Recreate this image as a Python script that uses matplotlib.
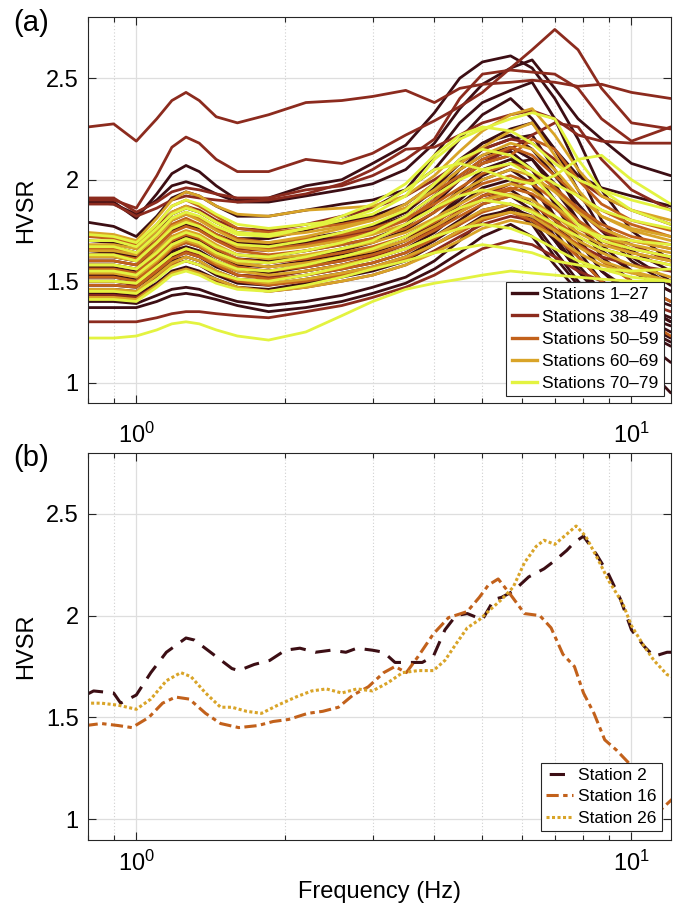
import numpy as np
import matplotlib
matplotlib.use('Agg')
import matplotlib.pyplot as plt
from matplotlib.ticker import FixedLocator, FuncFormatter, NullFormatter
from matplotlib.lines import Line2D

plt.rcParams['font.family'] = ['Liberation Sans', 'DejaVu Sans']
plt.rcParams['mathtext.fontset'] = 'custom'
plt.rcParams['mathtext.rm'] = 'Liberation Sans'

# ---------------- Panel (a) data ----------------
freq_a = [0.8, 0.9, 1.0, 1.1, 1.18, 1.26, 1.34, 1.45, 1.6, 1.85, 2.2, 2.6, 3.0, 3.5,
          4.0, 4.5, 5.0, 5.7, 6.3, 7.0, 7.8, 8.7, 10.0, 12.0]

dark_curves = [
    [1.90,1.89,1.81,1.93,2.03,2.07,2.04,1.97,1.90,1.91,1.97,2.00,2.08,2.17,2.33,2.50,2.58,2.61,2.55,2.40,2.20,1.95,1.75,1.60],
    [1.89,1.88,1.83,1.90,1.97,1.99,1.97,1.93,1.89,1.89,1.92,1.95,1.98,2.05,2.18,2.35,2.47,2.55,2.59,2.45,2.30,2.20,2.08,2.02],
    [1.79,1.77,1.72,1.82,1.91,1.94,1.92,1.87,1.82,1.82,1.85,1.88,1.90,1.95,2.05,2.20,2.32,2.40,2.30,2.15,2.02,1.96,1.92,1.87],
    [1.70,1.69,1.66,1.75,1.83,1.86,1.84,1.79,1.74,1.73,1.76,1.79,1.82,1.88,1.98,2.10,2.18,2.22,2.15,2.02,1.88,1.75,1.65,1.55],
    [1.65,1.64,1.62,1.70,1.77,1.80,1.78,1.73,1.69,1.68,1.71,1.74,1.77,1.84,1.95,2.05,2.12,2.16,2.10,1.95,1.80,1.65,1.55,1.45],
    [1.62,1.62,1.60,1.68,1.75,1.78,1.76,1.71,1.66,1.66,1.69,1.72,1.76,1.82,1.92,2.02,2.10,2.14,2.05,1.90,1.72,1.55,1.42,1.30],
    [1.60,1.60,1.58,1.65,1.72,1.74,1.72,1.67,1.63,1.62,1.65,1.68,1.71,1.77,1.88,2.00,2.08,2.12,2.00,1.82,1.65,1.50,1.40,1.30],
    [1.58,1.58,1.56,1.63,1.70,1.72,1.70,1.65,1.61,1.60,1.62,1.65,1.69,1.75,1.84,1.95,2.05,2.10,2.05,1.88,1.70,1.55,1.45,1.38],
    [1.55,1.55,1.53,1.60,1.67,1.69,1.67,1.62,1.58,1.57,1.60,1.63,1.66,1.72,1.80,1.90,2.00,2.05,1.98,1.80,1.62,1.50,1.40,1.32],
    [1.53,1.53,1.51,1.58,1.65,1.67,1.65,1.60,1.56,1.55,1.58,1.61,1.64,1.70,1.78,1.88,1.96,2.00,1.92,1.75,1.58,1.45,1.35,1.25],
    [1.50,1.50,1.49,1.56,1.62,1.64,1.62,1.57,1.53,1.52,1.55,1.58,1.61,1.66,1.74,1.84,1.92,1.95,1.88,1.72,1.56,1.42,1.30,1.20],
    [1.48,1.48,1.47,1.54,1.60,1.62,1.60,1.55,1.51,1.50,1.53,1.56,1.59,1.64,1.72,1.80,1.88,1.92,1.85,1.70,1.55,1.42,1.32,1.22],
    [1.46,1.46,1.45,1.52,1.58,1.60,1.58,1.53,1.49,1.48,1.51,1.54,1.57,1.62,1.70,1.78,1.85,1.88,1.80,1.65,1.50,1.38,1.28,1.18],
    [1.44,1.44,1.43,1.49,1.55,1.57,1.55,1.51,1.47,1.46,1.49,1.52,1.55,1.60,1.68,1.75,1.82,1.85,1.78,1.62,1.48,1.36,1.25,1.10],
    [1.37,1.37,1.37,1.40,1.43,1.44,1.43,1.41,1.38,1.35,1.37,1.40,1.44,1.49,1.56,1.64,1.72,1.78,1.72,1.58,1.45,1.30,1.15,0.95],
    [1.40,1.40,1.39,1.43,1.46,1.47,1.46,1.43,1.40,1.38,1.40,1.43,1.47,1.52,1.60,1.70,1.80,1.86,1.82,1.70,1.55,1.45,1.35,1.28],
    [1.67,1.67,1.64,1.73,1.80,1.83,1.81,1.76,1.71,1.71,1.75,1.80,1.86,1.95,2.12,2.28,2.38,2.44,2.48,2.30,2.05,1.80,1.62,1.50],
    [1.57,1.57,1.55,1.62,1.69,1.71,1.69,1.64,1.60,1.59,1.62,1.66,1.70,1.78,1.90,2.05,2.15,2.20,2.22,2.05,1.85,1.68,1.55,1.45],
    [1.52,1.52,1.50,1.57,1.64,1.66,1.64,1.59,1.55,1.54,1.57,1.60,1.64,1.70,1.80,1.92,2.02,2.08,2.10,1.98,1.80,1.62,1.50,1.40],
    [1.63,1.63,1.61,1.69,1.76,1.79,1.77,1.72,1.67,1.67,1.70,1.73,1.77,1.84,1.96,2.08,2.18,2.25,2.28,2.15,1.95,1.75,1.60,1.48],
]

red_curves = [
    [2.26,2.275,2.19,2.30,2.39,2.43,2.39,2.31,2.28,2.32,2.38,2.39,2.41,2.44,2.38,2.45,2.47,2.48,2.49,2.48,2.46,2.47,2.43,2.40],
    [1.90,1.90,1.86,2.02,2.16,2.21,2.18,2.10,2.04,2.04,2.10,2.08,2.13,2.22,2.29,2.36,2.43,2.55,2.64,2.74,2.64,2.45,2.28,2.25],
    [1.91,1.91,1.84,1.89,1.94,1.96,1.95,1.93,1.91,1.91,1.95,1.97,2.02,2.10,2.20,2.40,2.52,2.54,2.53,2.52,2.45,2.30,2.19,2.26],
    [1.88,1.88,1.82,1.86,1.90,1.92,1.91,1.90,1.89,1.90,1.93,1.98,2.05,2.15,2.16,2.22,2.28,2.32,2.34,2.30,2.22,2.19,2.18,2.18],
    [1.62,1.62,1.60,1.68,1.76,1.79,1.77,1.71,1.66,1.65,1.68,1.72,1.75,1.82,1.92,2.00,2.08,2.15,2.22,2.28,2.26,2.10,1.95,1.85],
    [1.50,1.50,1.48,1.56,1.63,1.65,1.63,1.58,1.53,1.52,1.55,1.58,1.62,1.68,1.76,1.85,1.92,1.98,2.00,1.95,1.85,1.75,1.68,1.60],
    [1.30,1.30,1.30,1.32,1.34,1.35,1.35,1.34,1.33,1.32,1.35,1.38,1.42,1.47,1.53,1.60,1.66,1.70,1.68,1.62,1.55,1.50,1.42,1.35],
    [1.72,1.72,1.68,1.77,1.84,1.87,1.85,1.80,1.76,1.75,1.78,1.82,1.86,1.92,2.00,2.08,2.15,2.20,2.18,2.10,2.00,1.92,1.85,1.78],
    [1.43,1.43,1.42,1.48,1.54,1.56,1.54,1.50,1.47,1.45,1.47,1.50,1.53,1.58,1.65,1.72,1.78,1.82,1.80,1.75,1.68,1.62,1.58,1.55],
]

orange_curves = [
    [1.72,1.71,1.68,1.78,1.87,1.90,1.87,1.82,1.76,1.74,1.76,1.78,1.81,1.86,1.94,2.02,2.10,2.16,2.12,2.02,1.92,1.85,1.78,1.72],
    [1.66,1.66,1.64,1.73,1.81,1.84,1.81,1.76,1.71,1.69,1.71,1.73,1.76,1.81,1.88,1.96,2.03,2.08,2.05,1.96,1.86,1.78,1.72,1.68],
    [1.60,1.60,1.58,1.67,1.74,1.77,1.75,1.70,1.65,1.63,1.65,1.68,1.71,1.76,1.84,1.92,1.98,2.02,1.98,1.90,1.80,1.72,1.66,1.62],
    [1.56,1.56,1.54,1.63,1.70,1.73,1.71,1.66,1.61,1.59,1.61,1.64,1.67,1.72,1.79,1.86,1.92,1.96,1.93,1.86,1.76,1.70,1.64,1.60],
    [1.52,1.52,1.50,1.59,1.66,1.69,1.67,1.62,1.57,1.55,1.57,1.60,1.63,1.68,1.75,1.82,1.88,1.92,1.88,1.80,1.72,1.66,1.62,1.58],
    [1.48,1.48,1.47,1.55,1.61,1.64,1.62,1.58,1.53,1.51,1.53,1.56,1.59,1.64,1.71,1.78,1.84,1.88,1.84,1.76,1.68,1.60,1.50,1.40],
    [1.45,1.45,1.44,1.51,1.58,1.60,1.58,1.54,1.50,1.48,1.50,1.53,1.56,1.61,1.68,1.74,1.80,1.84,1.80,1.72,1.62,1.50,1.35,1.23],
    [1.63,1.63,1.61,1.70,1.78,1.81,1.78,1.73,1.68,1.66,1.68,1.71,1.74,1.80,1.90,2.00,2.08,2.12,2.20,2.15,2.00,1.88,1.80,1.75],
    [1.54,1.54,1.52,1.61,1.68,1.71,1.69,1.64,1.59,1.57,1.59,1.62,1.65,1.70,1.77,1.84,1.90,1.95,2.00,1.95,1.85,1.76,1.70,1.66],
]

gold_curves = [
    [1.74,1.73,1.70,1.81,1.90,1.94,1.92,1.87,1.83,1.82,1.85,1.86,1.87,1.92,2.02,2.14,2.24,2.32,2.35,2.22,2.05,1.92,1.85,1.80],
    [1.68,1.68,1.66,1.75,1.84,1.87,1.84,1.79,1.74,1.72,1.74,1.77,1.80,1.86,1.95,2.05,2.12,2.18,2.15,2.05,1.92,1.82,1.76,1.72],
    [1.62,1.62,1.60,1.69,1.77,1.80,1.77,1.72,1.67,1.65,1.67,1.70,1.73,1.78,1.86,1.94,2.00,2.05,2.02,1.94,1.84,1.76,1.70,1.66],
    [1.58,1.58,1.56,1.65,1.72,1.75,1.73,1.68,1.63,1.61,1.63,1.66,1.69,1.74,1.81,1.88,1.94,1.98,1.95,1.87,1.78,1.72,1.68,1.64],
    [1.54,1.54,1.52,1.60,1.67,1.70,1.68,1.63,1.59,1.57,1.59,1.62,1.65,1.70,1.77,1.84,1.90,1.93,1.90,1.82,1.74,1.68,1.64,1.60],
    [1.50,1.50,1.49,1.57,1.63,1.66,1.64,1.59,1.55,1.53,1.55,1.58,1.61,1.66,1.72,1.79,1.85,1.88,1.85,1.78,1.70,1.64,1.58,1.52],
    [1.46,1.46,1.45,1.53,1.59,1.62,1.60,1.55,1.51,1.49,1.51,1.54,1.57,1.62,1.68,1.75,1.81,1.84,1.82,1.75,1.67,1.60,1.55,1.50],
    [1.42,1.42,1.41,1.48,1.54,1.56,1.54,1.51,1.47,1.45,1.47,1.50,1.53,1.58,1.64,1.70,1.76,1.80,1.78,1.72,1.64,1.58,1.54,1.50],
    [1.65,1.65,1.63,1.72,1.80,1.83,1.80,1.75,1.70,1.69,1.72,1.76,1.80,1.88,1.98,2.08,2.16,2.24,2.28,2.12,1.95,1.82,1.75,1.70],
]

yellow_curves = [
    [1.22,1.22,1.23,1.26,1.29,1.30,1.29,1.26,1.23,1.21,1.25,1.33,1.40,1.46,1.49,1.51,1.53,1.55,1.54,1.53,1.52,1.51,1.50,1.50],
    [1.73,1.72,1.69,1.78,1.87,1.90,1.88,1.83,1.78,1.76,1.78,1.80,1.83,1.92,2.10,2.20,2.25,2.30,2.33,2.30,2.10,1.95,1.85,1.78],
    [1.70,1.70,1.67,1.76,1.83,1.86,1.84,1.79,1.74,1.73,1.76,1.80,1.85,1.95,2.05,2.08,2.05,2.00,1.98,2.02,2.10,2.12,2.00,1.88],
    [1.63,1.63,1.60,1.69,1.76,1.79,1.77,1.72,1.68,1.67,1.70,1.74,1.78,1.85,1.98,2.10,2.15,2.12,2.05,1.98,1.92,1.85,1.80,1.76],
    [1.58,1.58,1.56,1.64,1.71,1.74,1.72,1.67,1.63,1.62,1.65,1.69,1.74,1.82,1.92,2.00,2.05,2.08,2.02,1.90,1.78,1.70,1.66,1.62],
    [1.55,1.55,1.53,1.61,1.68,1.71,1.69,1.64,1.60,1.59,1.62,1.66,1.70,1.78,1.86,1.92,1.95,1.92,1.88,1.82,1.76,1.72,1.70,1.68],
    [1.50,1.50,1.49,1.57,1.63,1.66,1.64,1.60,1.56,1.55,1.58,1.62,1.66,1.72,1.80,1.86,1.90,1.88,1.84,1.78,1.72,1.66,1.62,1.58],
    [1.45,1.45,1.44,1.51,1.57,1.60,1.58,1.54,1.51,1.50,1.53,1.57,1.61,1.66,1.72,1.76,1.78,1.76,1.72,1.66,1.60,1.56,1.52,1.50],
    [1.41,1.41,1.40,1.47,1.53,1.55,1.53,1.49,1.46,1.45,1.48,1.52,1.56,1.60,1.64,1.66,1.68,1.66,1.64,1.60,1.58,1.56,1.55,1.56],
    [1.67,1.67,1.64,1.73,1.81,1.84,1.82,1.77,1.73,1.72,1.76,1.82,1.88,1.98,2.12,2.22,2.26,2.24,2.18,2.08,2.00,1.95,1.90,1.85],
]

group_labels = ['Stations 1\u201327', 'Stations 38\u201349', 'Stations 50\u201359',
                'Stations 60\u201369', 'Stations 70\u201379']
group_colors = ['#3c0e14', '#8c2b1e', '#c2611b', '#d9a428', '#e3f340']
groups = [dark_curves, red_curves, orange_curves, gold_curves, yellow_curves]

# ---------------- Panel (b) data ----------------
s2_f = [0.79,0.82,0.90,0.93,1.00,1.07,1.15,1.26,1.31,1.43,1.56,1.61,1.73,1.86,2.00,2.14,2.30,2.47,2.65,2.79,
        3.00,3.16,3.33,3.58,3.78,3.98,4.20,4.42,4.66,5.00,5.28,5.47,5.77,6.20,6.66,7.00,7.40,7.67,8.00,8.50,
        9.00,9.50,10.0,10.6,11.1,11.8,12.1]
s2_v = [1.61,1.63,1.62,1.57,1.61,1.72,1.82,1.89,1.88,1.81,1.74,1.73,1.76,1.78,1.83,1.84,1.82,1.83,1.82,1.84,
        1.83,1.82,1.77,1.77,1.77,1.80,1.93,2.00,2.01,1.98,2.08,2.09,2.12,2.19,2.23,2.27,2.32,2.36,2.39,2.30,
        2.20,2.08,1.93,1.85,1.80,1.82,1.82]

s16_f = [0.79,0.85,0.92,0.98,1.06,1.13,1.20,1.28,1.38,1.48,1.61,1.76,1.89,2.03,2.22,2.38,2.56,2.74,2.94,3.16,
         3.33,3.51,3.71,3.98,4.27,4.66,4.93,5.14,5.38,5.67,6.08,6.53,6.88,7.27,7.67,8.00,8.40,8.83,9.32,9.84,
         10.4,11.0,11.5,12.1]
s16_v = [1.46,1.47,1.46,1.45,1.50,1.57,1.60,1.59,1.52,1.47,1.45,1.46,1.48,1.49,1.52,1.53,1.55,1.61,1.65,1.72,
         1.75,1.72,1.80,1.91,1.99,2.02,2.09,2.15,2.18,2.11,2.01,2.00,1.94,1.81,1.75,1.62,1.52,1.39,1.34,1.28,
         1.18,1.08,1.05,1.10]

s26_f = [0.79,0.85,0.92,1.00,1.07,1.15,1.23,1.29,1.38,1.48,1.56,1.67,1.79,1.93,2.10,2.26,2.42,2.60,2.79,3.00,
         3.22,3.45,3.71,3.98,4.20,4.42,4.66,4.93,5.19,5.47,5.77,6.08,6.42,6.66,7.00,7.40,7.73,8.08,8.50,9.00,
         9.60,10.0,10.6,11.1,11.8,12.1]
s26_v = [1.57,1.57,1.56,1.54,1.59,1.68,1.72,1.70,1.62,1.55,1.55,1.53,1.52,1.56,1.60,1.63,1.64,1.62,1.64,1.63,
         1.67,1.72,1.73,1.73,1.78,1.86,1.94,1.98,2.03,2.08,2.14,2.26,2.34,2.37,2.35,2.40,2.44,2.39,2.29,2.17,
         2.06,1.95,1.85,1.78,1.71,1.70]

station_labels = ['Station 2', 'Station 16', 'Station 26']
station_colors = ['#3c0e14', '#c2611b', '#d9a428']

# ---------------- Figure ----------------
W, H = 676, 915
fig = plt.figure(figsize=(W / 100, H / 100), dpi=100)
left, right = 88.3, 670.7
axA = fig.add_axes([left / W, 1 - 403.0 / H, (right - left) / W, (403.0 - 17.3) / H])
axB = fig.add_axes([left / W, 1 - 839.6 / H, (right - left) / W, (839.6 - 452.7) / H])

FS = 17


def style(ax, xpad):
    ax.set_xscale('log')
    ax.set_xlim(0.8, 12)
    ax.set_ylim(0.9, 2.8)
    ax.yaxis.set_major_locator(FixedLocator([1, 1.5, 2, 2.5]))
    ax.yaxis.set_major_formatter(FuncFormatter(lambda v, p: f'{v:g}'))
    ax.yaxis.set_minor_locator(FixedLocator([]))
    ax.xaxis.set_major_locator(FixedLocator([1, 10]))
    ax.xaxis.set_major_formatter(FuncFormatter(
        lambda v, p: r'$\mathregular{10^{%d}}$' % int(round(np.log10(v)))))
    ax.xaxis.set_minor_locator(FixedLocator([0.8, 0.9, 2, 3, 4, 5, 6, 7, 8, 9]))
    ax.xaxis.set_minor_formatter(NullFormatter())
    ax.grid(which='major', color='#dedede', lw=0.9, ls='-')
    ax.grid(which='minor', axis='x', color='#d0d0d0', lw=0.8, ls=(0, (1, 2)))
    ax.set_axisbelow(True)
    ax.tick_params(which='both', direction='in', top=True, right=True,
                   color='#262626', labelcolor='black', labelsize=FS, width=0.8)
    ax.tick_params(which='major', length=5.5)
    ax.tick_params(which='minor', length=3.5)
    ax.tick_params(axis='y', pad=7)
    ax.tick_params(axis='x', pad=xpad)
    for s in ax.spines.values():
        s.set_color('#262626')
        s.set_linewidth(0.8)


style(axA, 14)
style(axB, 8)

# Panel (a) curves
for curves, col in zip(groups, group_colors):
    for vals in curves:
        axA.plot(freq_a, vals, color=col, lw=2.0, solid_capstyle='round', solid_joinstyle='round')

handles = [Line2D([0], [0], color=c, lw=2.4) for c in group_colors]
legA = axA.legend(handles, group_labels, loc='lower right', fontsize=12.5, frameon=True,
                  fancybox=False, edgecolor='#262626', framealpha=1, borderpad=0.3,
                  labelspacing=0.4, handlelength=1.45, handletextpad=0.3, borderaxespad=0.4)
legA.get_frame().set_linewidth(0.8)

# Panel (b) curves
styles = [(7.2, (5, 3.25)), (0, (4, 1.45, 1.45, 1.45)), (0, (1, 0.8))]
for fx, vy, col, ls, lab in zip([s2_f, s16_f, s26_f], [s2_v, s16_v, s26_v],
                                station_colors, styles, station_labels):
    axB.plot(fx, vy, color=col, lw=2.2, ls=ls, dash_capstyle='butt', label=lab)

legB = axB.legend(loc='lower right', fontsize=12.5, frameon=True, fancybox=False,
                  edgecolor='#262626', framealpha=1, borderpad=0.3, labelspacing=0.35,
                  handlelength=1.55, handletextpad=0.3, borderaxespad=0.5)
legB.get_frame().set_linewidth(0.8)

axA.set_ylabel('HVSR', fontsize=FS, labelpad=6)
axB.set_ylabel('HVSR', fontsize=FS, labelpad=6)
axB.set_xlabel('Frequency (Hz)', fontsize=FS, labelpad=4)

fig.text(13 / W, 1 - 23 / H, '(a)', fontsize=21, ha='left', va='center')
fig.text(13 / W, 1 - 458 / H, '(b)', fontsize=21, ha='left', va='center')

fig.savefig('out.png', dpi=100)
